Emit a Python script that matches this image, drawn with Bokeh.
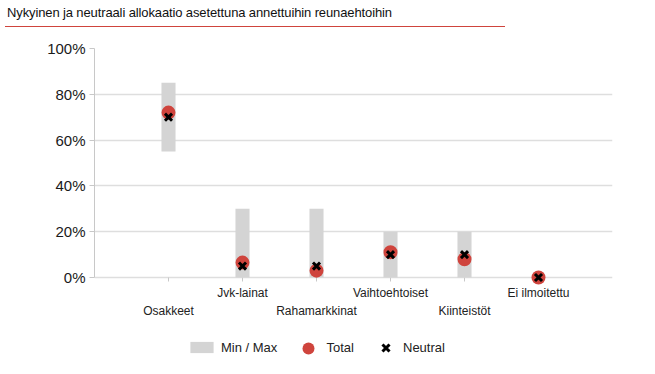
from bokeh.plotting import figure
from bokeh.models import (Range1d, FixedTicker, NumeralTickFormatter,
                          Legend, LegendItem, ColumnDataSource, Div)
from bokeh.layouts import column
from bokeh.core.properties import value
from bokeh.embed import file_html
from bokeh.resources import INLINE

title_text = "Nykyinen ja neutraali allokaatio asetettuna annettuihin reunaehtoihin"
categories = ["Osakkeet", "Jvk-lainat", "Rahamarkkinat", "Vaihtoehtoiset", "Kiinteistöt", "Ei ilmoitettu"]
min_vals = [0.55, 0.0, 0.0, 0.0, 0.0, 0.0]
max_vals = [0.85, 0.30, 0.30, 0.20, 0.20, 0.0]
total_vals = [0.72, 0.065, 0.03, 0.11, 0.08, 0.0]
neutral_vals = [0.70, 0.05, 0.05, 0.10, 0.10, 0.0]
y_ticks = [0, 0.2, 0.4, 0.6, 0.8, 1.0]
legend_labels = ["Min / Max", "Total", "Neutral"]

positions = list(range(1, len(categories) + 1))
FONT = "Liberation Sans"
RED = "#cf443d"
GRAY = "#d4d4d4"
AXIS = "#c8c8c8"

# layout constants (pixels)
PX_PER_UNIT = 229.0
FRAME_H = 324
Y_START = 1.0 - FRAME_H / PX_PER_UNIT
TICK_LEN = 4 / PX_PER_UNIT

src = ColumnDataSource(dict(x=positions, lo=min_vals, hi=max_vals,
                            total=total_vals, neutral=neutral_vals))
lab_src = ColumnDataSource(dict(
    x=positions, y=[0.0] * len(positions), text=categories,
    off=[26 if i % 2 == 0 else 8 for i in range(len(positions))]))

title = Div(text=title_text, width=500, height=27, margin=(0, 0, 0, 5),
            styles={"font-family": FONT, "font-size": "13px", "color": "#111111",
                    "line-height": "16px", "border-bottom": "1px solid " + RED,
                    "box-sizing": "border-box", "padding-top": "5px",
                    "padding-left": "2px", "letter-spacing": "-0.12px"})

p = figure(width=650, height=FRAME_H + 21, x_range=Range1d(0, len(categories) + 1),
           y_range=Range1d(Y_START, 1.0), output_backend="svg", toolbar_location=None,
           x_axis_location=None,
           min_border_left=94, min_border_right=38, min_border_top=21, min_border_bottom=0)
p.outline_line_color = None
p.background_fill_color = None
p.border_fill_color = None
p.xgrid.visible = False
p.ygrid.ticker = FixedTicker(ticks=y_ticks)
p.ygrid.grid_line_color = "#dedede"
p.ygrid.grid_line_width = 1.6

# y axis
ya = p.yaxis[0]
ya.ticker = FixedTicker(ticks=y_ticks)
ya.formatter = NumeralTickFormatter(format="0%")
ya.bounds = (0, 1)
ya.axis_line_color = AXIS
ya.major_tick_line_color = AXIS
ya.major_tick_out = 5
ya.major_tick_in = 0
ya.minor_tick_line_color = None
ya.major_label_standoff = 4
ya.major_label_text_font = FONT
ya.major_label_text_font_size = "15px"
ya.major_label_text_color = "#1a1a1a"

# category ticks and staggered labels below the 0% line
p.segment(x0="x", y0="y", x1="x", y1=-TICK_LEN, source=lab_src,
          line_color=AXIS, line_width=1)
p.text(x="x", y="y", text="text", y_offset="off", source=lab_src,
       text_align="center", text_baseline="top", text_font=value(FONT),
       text_font_size="12px", text_color="#222222")

bars = p.vbar(x="x", bottom="lo", top="hi", width=0.19, source=src,
              fill_color=GRAY, line_color=None)
dots = p.scatter(x="x", y="total", source=src, marker="circle", size=14,
                 fill_color=RED, line_color=None)
crosses = p.scatter(x="x", y="neutral", source=src, marker="x", size=10,
                    line_color="black", line_width=3)

def make_legend(label, r, gw, gh, loc, standoff):
    leg = Legend(items=[LegendItem(label=label, renderers=[r])], location=loc,
                 glyph_width=gw, glyph_height=gh, label_height=gh, label_width=10,
                 padding=0, margin=0, spacing=0, label_standoff=standoff,
                 border_line_color=None, background_fill_alpha=0,
                 label_text_font=FONT, label_text_font_size="13px",
                 label_text_color="#222222")
    p.add_layout(leg)

make_legend(legend_labels[0], bars, 29, 14, (93, 17.5), 5)
make_legend(legend_labels[1], dots, 30, 30, (198.5, 9.5), 4)
make_legend(legend_labels[2], crosses, 25, 25, (279, 12), 5)

layout = column(title, p, spacing=0)
open("out.html", "w").write(file_html(layout, INLINE))
